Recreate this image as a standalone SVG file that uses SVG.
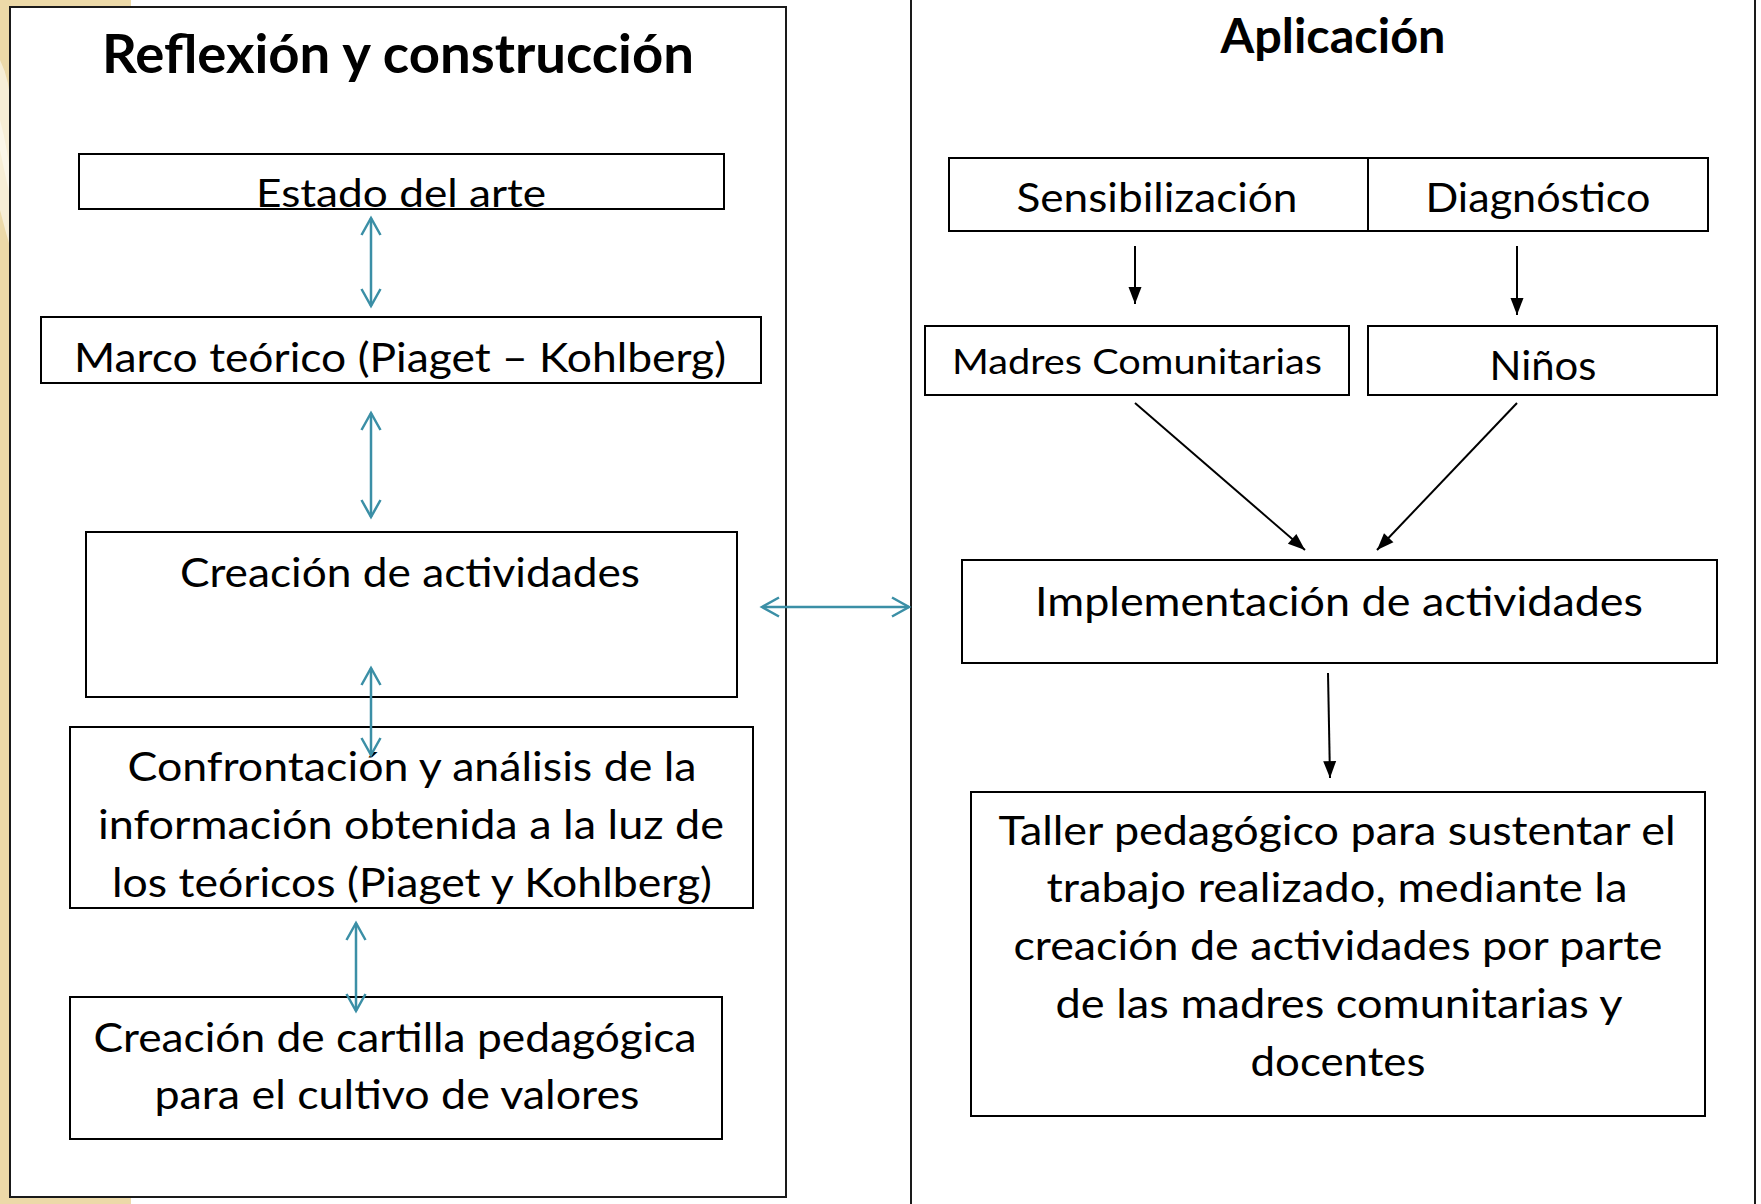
<svg xmlns="http://www.w3.org/2000/svg" width="1761" height="1204" viewBox="0 0 1761 1204">
  <style>
    .box { fill: #ffffff; stroke: #000000; stroke-width: 2; }
    .panel { fill: #ffffff; stroke: #1a1a1a; stroke-width: 2; }
    .t { font-family: Lato, "Open Sans", "Liberation Sans", sans-serif; font-size: 40px; fill: #000000; text-anchor: middle; }
    .sm { font-size: 34px; }
    .title { font-weight: bold; }
    .teal { stroke: #3b8fa6; stroke-width: 2.5; fill: none; marker-start: url(#tv); marker-end: url(#tv); }
    .blk { stroke: #000000; stroke-width: 2; fill: none; marker-end: url(#ba); }
  </style>
  <defs>
    <marker id="tv" viewBox="-22 -12 26 24" refX="0" refY="0" markerWidth="26" markerHeight="24" markerUnits="userSpaceOnUse" orient="auto-start-reverse">
      <path d="M-17,-9.5 L0,0 L-17,9.5" fill="none" stroke="#3b8fa6" stroke-width="2.5"/>
    </marker>
    <marker id="ba" viewBox="-20 -9 22 18" refX="0" refY="0" markerWidth="22" markerHeight="18" markerUnits="userSpaceOnUse" orient="auto">
      <path d="M-17,-6.5 L0,0 L-17,6.5 Z" fill="#000000"/>
    </marker>
  </defs>

  <!-- background -->
  <rect x="0" y="0" width="1761" height="1204" fill="#ffffff"/>
  <g id="background">
    <rect x="0" y="0" width="11" height="1204" fill="#ecd9a8"/>
    <rect x="0" y="0" width="131" height="8" fill="#ecd9a8"/>
    <rect x="0" y="1196" width="131" height="8" fill="#ecd9a8"/>
    <path d="M0,60 Q10,80 11,110 L11,250 Q5,230 0,210 Z" fill="#f7eed6"/>
    <path d="M0,120 Q8,150 11,180 L11,200 Q4,170 0,150 Z" fill="#fbf6e8"/>
  </g>

  <!-- panels -->
  <g id="panel-left">
    <rect class="panel" x="10" y="7" width="776" height="1190"/>
    <text class="t title" x="398" y="73" textLength="592" lengthAdjust="spacingAndGlyphs" style="font-size:53px">Reflexión y construcción</text>
  </g>
  <g id="panel-right">
    <line x1="911" y1="0" x2="911" y2="1204" stroke="#1a1a1a" stroke-width="2"/>
    <line x1="1755" y1="0" x2="1755" y2="1204" stroke="#1a1a1a" stroke-width="2"/>
    <text class="t title" x="1333" y="53" textLength="225" lengthAdjust="spacingAndGlyphs" style="font-size:47px">Aplicación</text>
  </g>

  <!-- left nodes -->
  <g id="estado">
    <rect class="box" x="79" y="154" width="645" height="55"/>
    <text class="t" x="401" y="207" textLength="290" lengthAdjust="spacingAndGlyphs" style="font-size:39px">Estado del arte</text>
  </g>
  <g id="marco">
    <rect class="box" x="41" y="317" width="720" height="66"/>
    <text class="t" x="400" y="372" textLength="652" lengthAdjust="spacingAndGlyphs">Marco teórico (Piaget – Kohlberg)</text>
  </g>
  <g id="creacion">
    <rect class="box" x="86" y="532" width="651" height="165"/>
    <text class="t" x="410" y="587" textLength="460" lengthAdjust="spacingAndGlyphs">Creación de actividades</text>
  </g>
  <g id="confrontacion">
    <rect class="box" x="70" y="727" width="683" height="181"/>
    <text class="t" x="412" y="781" textLength="569" lengthAdjust="spacingAndGlyphs">Confrontación y análisis de la</text>
    <text class="t" x="411" y="839" textLength="626" lengthAdjust="spacingAndGlyphs">información obtenida a la luz de</text>
    <text class="t" x="412" y="897" textLength="600" lengthAdjust="spacingAndGlyphs">los teóricos (Piaget y Kohlberg)</text>
  </g>
  <g id="cartilla">
    <rect class="box" x="70" y="997" width="652" height="142"/>
    <text class="t" x="395" y="1052" textLength="603" lengthAdjust="spacingAndGlyphs">Creación de cartilla pedagógica</text>
    <text class="t" x="397" y="1109" textLength="485" lengthAdjust="spacingAndGlyphs">para el cultivo de valores</text>
  </g>

  <!-- right nodes -->
  <g id="sensibilizacion">
    <rect class="box" x="949" y="158" width="419" height="73"/>
    <text class="t" x="1157" y="212" textLength="281" lengthAdjust="spacingAndGlyphs">Sensibilización</text>
  </g>
  <g id="diagnostico">
    <rect class="box" x="1368" y="158" width="340" height="73"/>
    <text class="t" x="1538" y="212" textLength="225" lengthAdjust="spacingAndGlyphs">Diagnóstico</text>
  </g>
  <g id="madres">
    <rect class="box" x="925" y="326" width="424" height="69"/>
    <text class="t sm" x="1137" y="374" textLength="370" lengthAdjust="spacingAndGlyphs">Madres Comunitarias</text>
  </g>
  <g id="ninos">
    <rect class="box" x="1368" y="326" width="349" height="69"/>
    <text class="t" x="1543" y="380" textLength="107" lengthAdjust="spacingAndGlyphs">Niños</text>
  </g>
  <g id="implementacion">
    <rect class="box" x="962" y="560" width="755" height="103"/>
    <text class="t" x="1339" y="616" textLength="608" lengthAdjust="spacingAndGlyphs">Implementación de actividades</text>
  </g>
  <g id="taller">
    <rect class="box" x="971" y="792" width="734" height="324"/>
    <text class="t" x="1337" y="845" textLength="677" lengthAdjust="spacingAndGlyphs">Taller pedagógico para sustentar el</text>
    <text class="t" x="1337" y="902" textLength="581" lengthAdjust="spacingAndGlyphs">trabajo realizado, mediante la</text>
    <text class="t" x="1338" y="960" textLength="649" lengthAdjust="spacingAndGlyphs">creación de actividades por parte</text>
    <text class="t" x="1339" y="1018" textLength="567" lengthAdjust="spacingAndGlyphs">de las madres comunitarias y</text>
    <text class="t" x="1338" y="1076" textLength="175" lengthAdjust="spacingAndGlyphs">docentes</text>
  </g>

  <!-- connectors -->
  <g id="connectors">
    <line class="teal" x1="371" y1="218" x2="371" y2="306"/>
    <line class="teal" x1="371" y1="413" x2="371" y2="517"/>
    <line class="teal" x1="371" y1="668" x2="371" y2="755"/>
    <line class="teal" x1="356" y1="923" x2="356" y2="1011"/>
    <line class="teal" x1="762" y1="607" x2="909" y2="607"/>
    <line class="blk" x1="1135" y1="246" x2="1135" y2="304"/>
    <line class="blk" x1="1517" y1="246" x2="1517" y2="315"/>
    <line class="blk" x1="1135" y1="403" x2="1305" y2="550"/>
    <line class="blk" x1="1517" y1="403" x2="1377" y2="550"/>
    <line class="blk" x1="1328" y1="673" x2="1330" y2="778"/>
  </g>
</svg>
